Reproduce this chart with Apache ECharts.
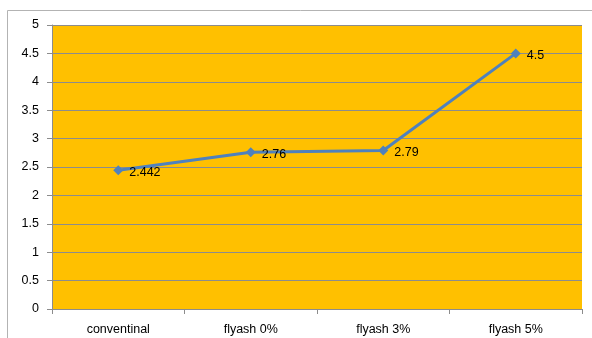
<!DOCTYPE html>
<html>
<head>
<meta charset="utf-8">
<script src="https://cdn.jsdelivr.net/npm/echarts@6/dist/echarts.min.js"></script>
<style>
  html, body { margin: 0; padding: 0; background: #fff; }
  #chart { width: 592px; height: 338px; }
</style>
</head>
<body>
<div id="chart"></div>
<script>
const categories = ["conventinal", "flyash 0%", "flyash 3%", "flyash 5%"];
const values = [2.442, 2.76, 2.79, 4.5];
const yTicks = { min: 0, max: 5, interval: 0.5 };

const chart = echarts.init(document.getElementById("chart"), null, { renderer: "canvas" });

chart.setOption({
    animation: false,
    textStyle: { fontFamily: "Liberation Sans, Arial, sans-serif" },
    graphic: [{
        type: "rect",
        shape: { x: 7.5, y: 10.5, width: 600, height: 400 },
        style: { fill: "none", stroke: "#b3b3b3", lineWidth: 1 },
        silent: true,
    }],
    grid: {
        left: 52, right: 10, top: 25, bottom: 29,
        show: true, backgroundColor: "#FFC000", borderWidth: 0,
    },
    xAxis: {
        type: "category",
        data: categories,
        boundaryGap: true,
        axisLine: { lineStyle: { color: "#8c8c8c", width: 1 } },
        axisTick: { show: true, length: 5, inside: false, lineStyle: { color: "#8c8c8c" } },
        axisLabel: { color: "#000", fontSize: 12.5, margin: 14 },
    },
    yAxis: {
        type: "value",
        min: yTicks.min, max: yTicks.max, interval: yTicks.interval,
        axisLine: { show: true, lineStyle: { color: "#8c8c8c", width: 1 } },
        axisTick: { show: true, length: 5, lineStyle: { color: "#8c8c8c" } },
        axisLabel: { color: "#000", fontSize: 12.5, margin: 13 },
        splitLine: { lineStyle: { color: "#8c8c8c", width: 1 } },
    },
    series: [{
        type: "line",
        data: values,
        symbol: "diamond",
        symbolSize: 10,
        lineStyle: { color: "#4F81BD", width: 3 },
        itemStyle: { color: "#4F81BD" },
        label: {
            show: true, position: "right", distance: 6,
            color: "#000", fontSize: 12.5, offset: [0, 2],
            formatter: (p) => String(p.value),
        },
    }],
});
</script>
</body>
</html>
